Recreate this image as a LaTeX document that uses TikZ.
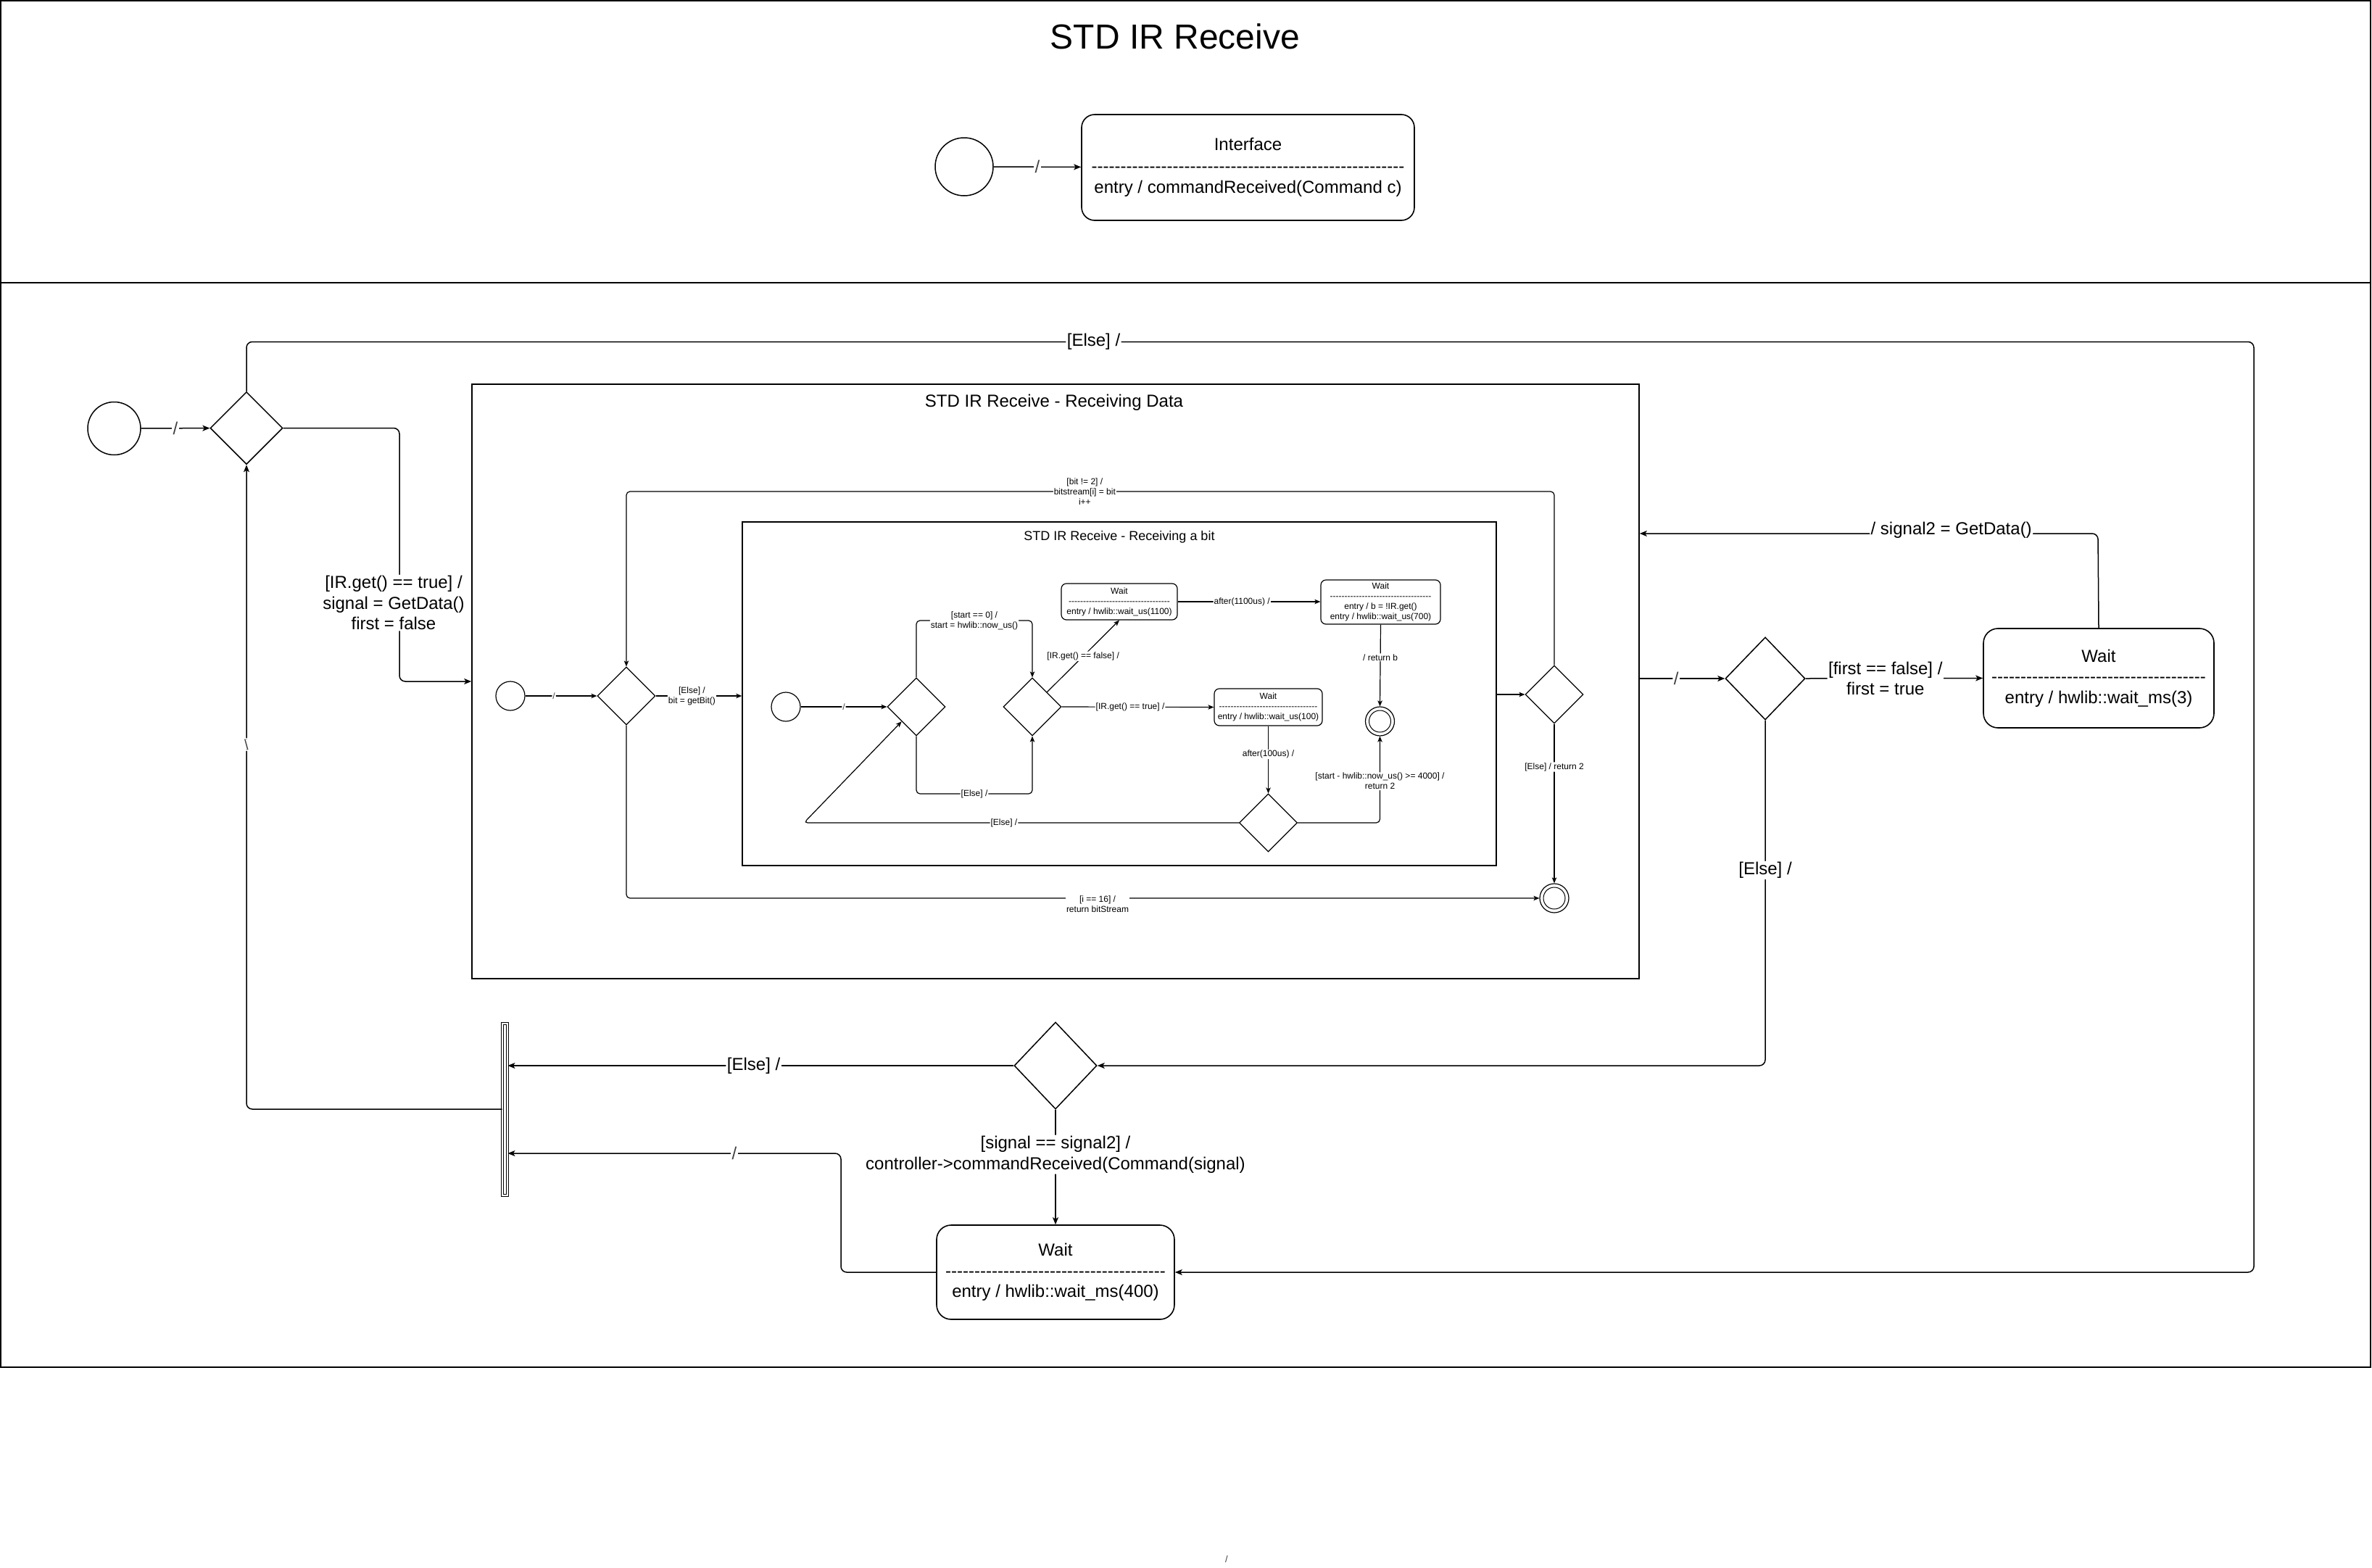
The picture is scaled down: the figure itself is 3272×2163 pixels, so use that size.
\documentclass[tikz,border=0pt]{standalone}
\usepackage{fontspec}
\setmainfont{Liberation Sans}
\usetikzlibrary{shapes.geometric,arrows.meta}

% a row of separate hyphens (kerns keep them from merging into dashes)
\newcommand\hyrow[1]{\foreach \k in {1,...,#1}{-\kern0pt}}

\begin{document}
\begin{tikzpicture}[x=1pt,y=-1pt,
  framel/.style={draw, line width=1.6pt},
  lbl/.style={fill=white, inner sep=1.5pt, align=center, font=\fontsize{24}{28.5}\selectfont},
  slbl/.style={fill=white, inner sep=1pt, align=center, font=\fontsize{12}{14}\selectfont},
  arr/.style={line width=1.5pt, -{Stealth[length=10pt,width=8pt,inset=2.5pt]}, rounded corners=8pt},
  arrs/.style={line width=1.2pt, -{Stealth[length=8pt,width=6.5pt,inset=2pt]}, rounded corners=5pt},
  dec/.style={diamond, draw, line width=1.5pt, inner sep=0pt},
  sdec/.style={diamond, draw, line width=1.2pt, inner sep=0pt, minimum width=80pt, minimum height=80pt},
  init/.style={circle, draw, line width=1.5pt, inner sep=0pt},
  state/.style={draw, line width=1.6pt, align=center, inner sep=0pt, rounded corners=18pt, font=\fontsize{24}{28.5}\selectfont},
  sstate/.style={draw, line width=1.2pt, align=center, inner sep=0pt, rounded corners=7pt, font=\fontsize{12}{14}\selectfont},
  final/.style={circle, draw, line width=1.2pt, inner sep=0pt, minimum size=40pt},
  slash/.style={text=black!75}
]
\useasboundingbox (0,0) rectangle (3272,2163);
\fill[white] (0,0) rectangle (3272,2163);

% ---------- outer frames ----------
\draw[framel] (1,1) rectangle (3270,390);
\draw[framel] (1,390) rectangle (3270,1886);

% ---------- interface ----------
\node[font=\fontsize{48}{56}\selectfont] (title) at (1621,50) {STD IR Receive};
\node[init, minimum size=80pt] (topinit) at (1330,230) {};
\node[state, minimum width=459pt, minimum height=146pt] (iface) at (1721.5,231)
  {Interface\\[1pt]\hyrow{54}\\[1pt]entry / commandReceived(Command c)};
\draw[arr] (topinit) -- node[lbl, slash]{/} (iface);

% ---------- main loop ----------
\node[init, minimum size=73pt] (init0) at (157.5,591) {};
\node[dec, minimum width=100pt, minimum height=100pt] (D0) at (340,590.5) {};
\draw[arr] (init0) -- node[lbl, slash]{/} (D0);

% receiving data
\node[draw, line width=1.6pt, minimum width=1610pt, minimum height=820pt, inner sep=0pt] (recvdata) at (1456,940) {};
\node[font=\fontsize{24}{28}\selectfont] (datatitle) at (1454,555) {STD IR Receive - Receiving Data};

\draw[arr] (D0.east) -- (551,590.5) -- node[lbl, pos=0.69, xshift=-8pt]{[IR.get() == true] /\\signal = GetData()\\first = false} (551,940) -- (recvdata.west);

% receiving a bit
\node[draw, line width=1.4pt, minimum width=1040pt, minimum height=474pt, inner sep=0pt] (recvbit) at (1544,957) {};
\node[font=\fontsize{18}{21}\selectfont] (bittitle) at (1544,741) {STD IR Receive - Receiving a bit};

\node[init, line width=1.2pt, minimum size=40pt] (init1) at (704,960) {};
\node[sdec] (D1) at (864,960) {};
\node[sdec] (D2) at (2144,958) {};
\node[final] (F1) at (2144,1239) {};
\draw[line width=1pt] (F1.center) circle[radius=15pt];

\draw[arrs] (init1) -- node[slbl, slash, pos=0.4]{/} (D1);
\draw[arrs] (D1.east) -- node[slbl, pos=0.42]{[Else] /\\bit = getBit()} (recvbit.west |- D1.east);
\draw[arrs] (recvbit.east |- D2.west) -- (D2.west);
\draw[arrs] (D2.north) -- (2144,678) -- node[slbl, pos=0.506]{[bit != 2] /\\bitstream[i] = bit\\i++} (864,678) -- (D1.north);
\draw[arrs] (D2.south) -- node[slbl, pos=0.27]{[Else] / return 2} (F1.north);
\draw[arrs] (D1.south) -- (864,1239) -- (F1.west);
\node[slbl] (donelbl) at (1514,1247) {[i == 16] /\\return bitStream};

% bit states
\node[init, line width=1.2pt, minimum size=40pt] (init2) at (1084,975) {};
\node[sdec] (D3) at (1264,975) {};
\node[sdec] (D4) at (1424,975) {};
\node[sstate, minimum width=160pt, minimum height=50pt] (waitlong) at (1544,830)
  {Wait\\\hyrow{35}\\entry / hwlib::wait\_us(1100)};
\node[sstate, minimum width=165pt, minimum height=61pt] (waitread) at (1904.5,830.5)
  {Wait\\\hyrow{35}\\entry / b = !IR.get()\\entry / hwlib::wait\_us(700)};
\node[sstate, minimum width=149pt, minimum height=51pt] (waitshort) at (1749.5,975.5)
  {Wait\\\hyrow{34}\\entry / hwlib::wait\_us(100)};
\node[final] (F2) at (1903.5,995) {};
\draw[line width=1pt] (F2.center) circle[radius=15pt];
\node[sdec] (D5) at (1749.5,1135) {};

\draw[arrs] (init2) -- node[slbl, slash]{/} (D3);
\draw[arrs] (D3.north) -- (1264,856) -- node[slbl]{[start == 0] /\\start = hwlib::now\_us()} (1424,856) -- (D4.north);
\draw[arrs] (D3.south) -- (1264,1095) -- node[slbl]{[Else] /} (1424,1095) -- (D4.south);
\draw[arrs] (D4.north east) -- node[slbl]{[IR.get() == false] /} (waitlong.south);
\draw[arrs] (D4.east) -- node[slbl, pos=0.45]{[IR.get() == true] /} (waitshort.west);
\draw[arrs] (waitlong.east) -- node[slbl, pos=0.45]{after(1100us) /} (waitread.west |- waitlong.east);
\draw[arrs] (waitread.south) -- node[slbl, pos=0.4]{/ return b} (F2.north);
\draw[arrs] (waitshort.south) -- node[slbl, pos=0.42]{after(100us) /} (D5.north);
\draw[arrs] (D5.east) -- (F2.south |- D5.east) -- node[slbl, pos=0.48]{[start - hwlib::now\_us() >= 4000] /\\return 2} (F2.south);
\draw[arrs] (D5.west) -- node[slbl, pos=0.54]{[Else] /} (1109,1135) -- (D3.south west);

% ---------- after receiving ----------
\node[dec, minimum width=110pt, minimum height=114pt] (D6) at (2435,936) {};
\node[state, rounded corners=20pt, minimum width=318pt, minimum height=137pt] (wait3) at (2895,935.5)
  {Wait\\\hyrow{37}\\entry / hwlib::wait\_ms(3)};
\draw[arr] (recvdata.east |- D6.west) -- node[lbl, slash, pos=0.43]{/} (D6.west);
\draw[arr] (D6.east) -- node[lbl, pos=0.45]{[first == false] /\\first = true} (wait3.west);
\draw[arr] (wait3.north) -- (2894,736) -- node[lbl, pos=0.32, yshift=5pt]{/ signal2 = GetData()} (recvdata.east |- 0,736);

\node[dec, minimum width=114pt, minimum height=120pt] (D7) at (1456,1470) {};
\draw[arr] (D6.south) -- node[lbl, pos=0.434]{[Else] /} (2435,1470) -- (D7.east);

\node[draw, double, double distance=1.6pt, line width=0.9pt, minimum width=7pt, minimum height=237pt, inner sep=0pt] (bar) at (696.5,1530.5) {};
\draw[arr] (D7.west) -- node[lbl, pos=0.514]{[Else] /} (bar.east |- D7.west);

\node[state, rounded corners=20pt, minimum width=328pt, minimum height=130pt] (wait400) at (1456,1755)
  {Wait\\\hyrow{38}\\entry / hwlib::wait\_ms(400)};
\draw[arr] (D7.south) -- node[lbl, pos=0.39]{[signal == signal2] /\\controller->commandReceived(Command(signal)} (wait400.north);
\draw[arr] (wait400.west) -- (1160,1755) -- (1160,1591) -- node[lbl, slash, pos=0.32]{/} (bar.east |- 0,1591);
\draw[arr] (bar.west |- 0,1530) -- (340,1530) -- node[lbl, slash, pos=0.566, font=\fontsize{20}{24}\selectfont]{\textbackslash} (D0.south);

% retry loop back into the waiting state
\draw[arr] (D0.north) -- (340,471.5) -- node[lbl, pos=0.422]{[Else] /} (3109,471.5) -- (3109,1755) -- (wait400.east);

\node[font=\fontsize{13}{15}\selectfont, slash] (stray) at (1692,2151) {/};
\end{tikzpicture}
\end{document}
